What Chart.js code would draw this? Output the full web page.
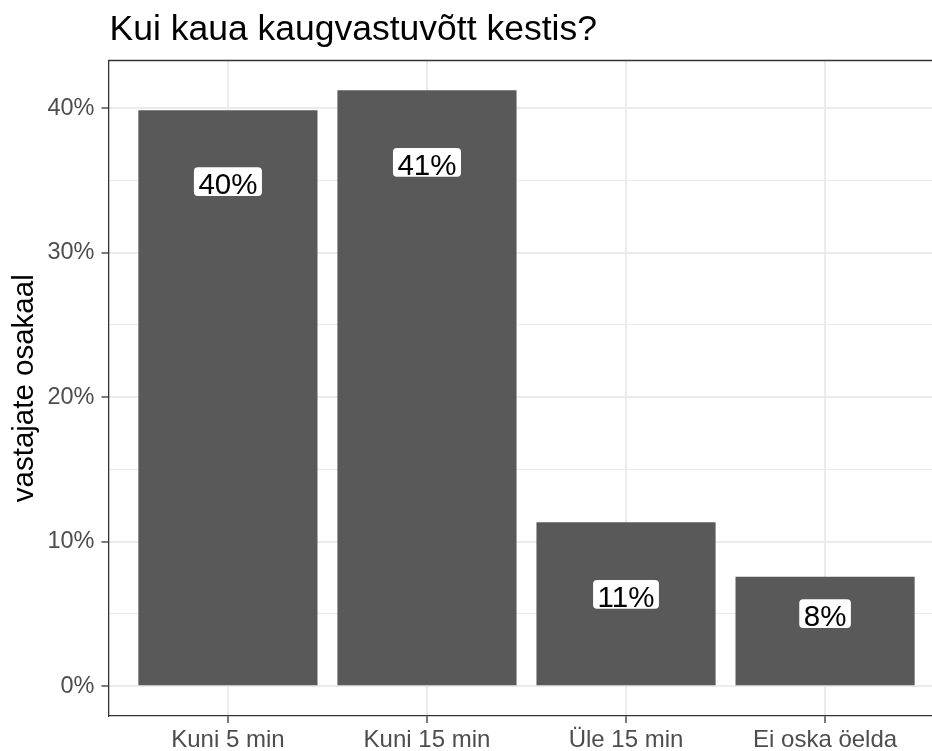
<!DOCTYPE html>
<html>
<head>
<meta charset="utf-8">
<script src="https://cdn.jsdelivr.net/npm/chart.js@4.4.1/dist/chart.umd.min.js"></script>
<style>
    html, body { margin: 0; padding: 0; background: #fff; overflow: hidden; }
    #wrap { width: 932px; height: 751px; overflow: hidden; }
    canvas { display: block; }
</style>
</head>
<body>
<div id="wrap"><canvas id="chart" width="960" height="751"></canvas></div>
<script>
const chartTitle = 'Kui kaua kaugvastuvõtt kestis?';
const yTitle = 'vastajate osakaal';
const categories = ['Kuni 5 min', 'Kuni 15 min', 'Üle 15 min', 'Ei oska öelda'];
const shares = [39.86, 41.24, 11.34, 7.57];
const shareLabels = ['40%', '41%', '11%', '8%'];
const labelPos = [34.92, 36.25, 6.36, 5.03];
const yTicks = [0, 5, 10, 15, 20, 25, 30, 35, 40];

const FONT = "'Liberation Sans', Arial, sans-serif";

// panel border (top line) + title drawn at panel left, like ggplot
const panelPlugin = {
    id: 'panel',
    afterDatasetsDraw(chart) {
        const { ctx, chartArea } = chart;
        ctx.save();
        ctx.strokeStyle = '#333333';
        ctx.lineWidth = 1.3;
        ctx.beginPath();
        ctx.moveTo(chartArea.left, chartArea.top);
        ctx.lineTo(chartArea.right, chartArea.top);
        ctx.stroke();
        ctx.restore();
    },
    afterDraw(chart) {
        const { ctx, chartArea } = chart;
        ctx.save();
        ctx.font = '35.5px ' + FONT;
        ctx.fillStyle = '#000';
        ctx.textBaseline = 'alphabetic';
        ctx.textAlign = 'left';
        ctx.fillText(chartTitle, chartArea.left + 1, 39.5);
        ctx.restore();
    }
};

// white rounded labels inside the bars
const labelPlugin = {
    id: 'barLabels',
    afterDatasetsDraw(chart) {
        const { ctx } = chart;
        const xs = chart.scales.x, ys = chart.scales.y;
        ctx.save();
        ctx.font = '29.5px ' + FONT;
        shareLabels.forEach((txt, i) => {
            const cx = xs.getPixelForValue(i);
            const cy = ys.getPixelForValue(labelPos[i]);
            const w = ctx.measureText(txt).width + 9;
            const h = 28.8;
            ctx.fillStyle = '#ffffff';
            ctx.beginPath();
            ctx.roundRect(cx - w / 2, cy - h / 2, w, h, 4);
            ctx.fill();
            ctx.fillStyle = '#000000';
            ctx.textAlign = 'center';
            ctx.textBaseline = 'alphabetic';
            ctx.fillText(txt, cx, cy + 12.5);
        });
        ctx.restore();
    }
};

const ctx = document.getElementById('chart').getContext('2d');
new Chart(ctx, {
    type: 'bar',
    data: {
        datasets: [{
            data: shares.map((v, i) => ({ x: i, y: v })),
            backgroundColor: '#595959',
            borderWidth: 0,
            barPercentage: 0.9,
            categoryPercentage: 1.0
        }]
    },
    options: {
        responsive: false,
        animation: false,
        layout: {
            padding: { left: 0, right: 15.5, top: 60.5, bottom: 0 }
        },
        plugins: {
            legend: { display: false },
            tooltip: { enabled: false },
            title: { display: false }
        },
        scales: {
            x: {
                type: 'linear',
                min: -0.6,
                max: 3.6,
                offset: false,
                afterBuildTicks: (s) => { s.ticks = categories.map((c, i) => ({ value: i })); },
                afterFit: (s) => { s.height = 35; },
                grid: {
                    offset: false,
                    color: '#EBEBEB',
                    lineWidth: 2,
                    drawTicks: true,
                    tickLength: 7,
                    tickColor: '#333333',
                    tickWidth: 1.3
                },
                border: { display: true, color: '#333333', width: 1.3 },
                ticks: {
                    autoSkip: false,
                    maxRotation: 0,
                    padding: 3,
                    color: '#4D4D4D',
                    font: { family: FONT, size: 24 },
                    callback: (v) => categories[v] ?? ''
                }
            },
            y: {
                type: 'linear',
                min: -2.06,
                max: 43.3,
                afterBuildTicks: (s) => { s.ticks = yTicks.map(v => ({ value: v })); },
                afterFit: (s) => { s.width = 108.5; },
                grid: {
                    color: '#EBEBEB',
                    lineWidth: (c) => (c.tick && c.tick.value % 10 === 0 ? 2 : 1),
                    drawTicks: true,
                    tickLength: 7,
                    tickColor: (c) => (c.tick && c.tick.value % 10 === 0 ? '#333333' : 'rgba(0,0,0,0)'),
                    tickWidth: 1.3
                },
                border: { display: true, color: '#333333', width: 1.3 },
                ticks: {
                    autoSkip: false,
                    padding: 7,
                    color: '#4D4D4D',
                    font: { family: FONT, size: 23.5 },
                    callback: (v) => (v % 10 === 0 ? v + '%' : '')
                },
                title: {
                    display: true,
                    text: yTitle,
                    color: '#000000',
                    font: { family: FONT, size: 29.5 },
                    padding: { top: 7, bottom: 0 }
                }
            }
        }
    },
    plugins: [panelPlugin, labelPlugin]
});
</script>
</body>
</html>
